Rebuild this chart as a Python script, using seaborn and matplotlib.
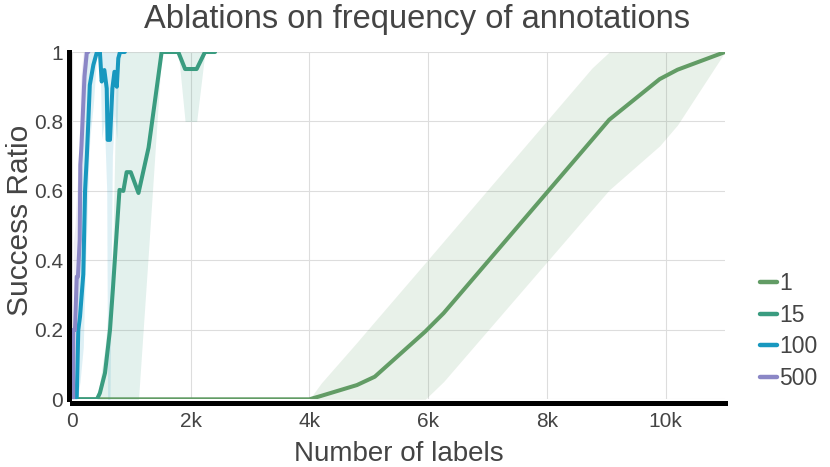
import numpy as np
import pandas as pd
import matplotlib
matplotlib.use("Agg")
import matplotlib.pyplot as plt
import seaborn as sns
from matplotlib.lines import Line2D

# ---------------- data ----------------
series_names = ["1", "15", "100", "500"]

x_1 = [0, 4000, 4200, 4800, 5100, 5950, 6260, 8760, 9050, 9900, 10200, 11000]
y_1 = [0, 0, 0.01, 0.041, 0.065, 0.195, 0.248, 0.747, 0.805, 0.922, 0.949, 1.0]
lo_1 = [0, 0, 0, 0, 0, 0, 0.051, 0.546, 0.603, 0.73, 0.79, 1.0]
hi_1 = [0, 0, 0.047, 0.164, 0.224, 0.393, 0.455, 0.954, 1.0, 1.0, 1.0, 1.0]

x_15 = [0, 420, 470, 556, 640, 690, 725, 750, 800, 865, 920, 990, 1120, 1290,
        1510, 1790, 1905, 2100, 2240, 2410]
y_15 = [0, 0, 0.018, 0.076, 0.2, 0.32, 0.41, 0.475, 0.603, 0.6, 0.654, 0.654,
        0.594, 0.725, 1.0, 1.0, 0.951, 0.951, 1.0, 1.0]
lo_15 = [0, 0, 0, 0, 0, 0, 0, 0, 0, 0, 0, 0, 0, 0.43, 1.0, 1.0, 0.8, 0.8, 1.0, 1.0]
hi_15 = [0, 0, 0.05, 0.15, 0.3, 0.46, 0.75, 1.0, 1.0, 1.0, 1.0, 1.0, 1.0, 1.0,
         1.0, 1.0, 1.0, 1.0, 1.0, 1.0]

x_100 = [0, 50, 80, 106, 135, 190, 220, 250, 275, 300, 360, 420, 470, 500, 545,
         585, 600, 640, 680, 715, 755, 780, 810, 890]
y_100 = [0, 0, 0.007, 0.2, 0.238, 0.36, 0.6, 0.7, 0.8, 0.905, 0.963, 1.0, 1.0,
         0.915, 0.948, 0.895, 0.747, 0.747, 0.895, 0.943, 0.9, 0.982, 1.0, 1.0]
lo_100 = [0, 0, 0, 0.02, 0.05, 0.15, 0.35, 0.5, 0.65, 0.75, 0.85, 1.0, 1.0, 0.75,
          0.8, 0.6, 0.0, 0.0, 0.7, 0.82, 0.75, 0.93, 1.0, 1.0]
hi_100 = [0, 0.05, 0.15, 0.45, 0.55, 0.75, 0.95, 1.0, 1.0, 1.0, 1.0, 1.0, 1.0,
          1.0, 1.0, 1.0, 1.0, 1.0, 1.0, 1.0, 1.0, 1.0, 1.0, 1.0]

x_500 = [0, 20, 22, 50, 80, 100, 130, 140, 160, 190, 210, 250, 275]
y_500 = [0, 0, 0.2, 0.2, 0.353, 0.353, 0.46, 0.675, 0.73, 0.85, 0.93, 1.0, 1.0]
lo_500 = [0, 0, 0.05, 0.1, 0.2, 0.25, 0.35, 0.5, 0.6, 0.75, 0.85, 0.95, 1.0]
hi_500 = [0, 0.1, 0.45, 0.5, 0.6, 0.65, 0.8, 0.9, 0.95, 1.0, 1.0, 1.0, 1.0]

x_ticks = [0, 2000, 4000, 6000, 8000, 10000]
x_ticklabels = ["0", "2k", "4k", "6k", "8k", "10k"]
y_ticks = [0, 0.2, 0.4, 0.6, 0.8, 1.0]
y_ticklabels = ["0", "0.2", "0.4", "0.6", "0.8", "1"]

title = "Ablations on frequency of annotations"
x_label = "Number of labels"
y_label = "Success Ratio"

# ---------------- styling ----------------
colors = {"1": "#629c65", "15": "#3a9c80", "100": "#1898bf", "500": "#8b87c6"}
text_color = "#444444"

sns.set_theme(style="white")
plt.rcParams["font.family"] = ["Liberation Sans", "DejaVu Sans"]
plt.rcParams["text.color"] = text_color
plt.rcParams["axes.labelcolor"] = text_color
plt.rcParams["xtick.color"] = text_color
plt.rcParams["ytick.color"] = text_color

W, H = 830, 467
fig = plt.figure(figsize=(W / 100, H / 100), dpi=100)
ax = fig.add_axes([72 / W, 1 - 399.3 / H, (725 - 72) / W, (399.3 - 52) / H])

data = {
    "1": (x_1, y_1, lo_1, hi_1),
    "15": (x_15, y_15, lo_15, hi_15),
    "100": (x_100, y_100, lo_100, hi_100),
    "500": (x_500, y_500, lo_500, hi_500),
}

frames = []
for name in series_names:
    xs, ys, lo, hi = data[name]
    frames.append(pd.DataFrame({"labels": xs, "ratio": ys, "annot": name}))
    ax.fill_between(xs, lo, hi, color=colors[name], alpha=0.14, linewidth=0,
                    zorder=1)
df = pd.concat(frames, ignore_index=True)

sns.lineplot(data=df, x="labels", y="ratio", hue="annot", hue_order=series_names,
             palette=colors, linewidth=2.9, errorbar=None, legend=False, ax=ax,
             zorder=3)

ax.set_xlim(0, 11000)
ax.set_ylim(0, 1)
ax.set_xticks(x_ticks)
ax.set_xticklabels(x_ticklabels)
ax.set_yticks(y_ticks)
ax.set_yticklabels(y_ticklabels)
ax.tick_params(axis="both", length=0, labelsize=15)
ax.tick_params(axis="x", pad=7)
ax.tick_params(axis="y", pad=3.8)

ax.grid(True, color="#dddddd", linewidth=0.8)
ax.set_axisbelow(True)

for s in ["top", "right"]:
    ax.spines[s].set_visible(False)
for s in ["left", "bottom"]:
    ax.spines[s].set_color("black")
    ax.spines[s].set_linewidth(3.6)
    ax.spines[s].set_position(("outward", 2.5))
    ax.spines[s].set_capstyle("projecting")

ax.set_xlabel(x_label, fontsize=20)
ax.set_ylabel(y_label, fontsize=21.5)
ax.xaxis.set_label_coords(0.5, -0.12)
ax.yaxis.set_label_coords(-0.058, 0.516)

fig.text(416.5 / W, 1 - 4 / H, title, ha="center", va="top", fontsize=23.5,
         color=text_color)

handles = [Line2D([0], [0], color=colors[n], linewidth=3.2) for n in series_names]
ax.legend(handles, series_names, loc="upper left",
          bbox_to_anchor=(760 / W, 1 - 272 / H), bbox_transform=fig.transFigure,
          frameon=False, fontsize=16.5, handlelength=0.75, handletextpad=0.1,
          labelspacing=0.38, borderaxespad=0, borderpad=0, labelcolor=text_color)

fig.savefig("out.png", dpi=100)
